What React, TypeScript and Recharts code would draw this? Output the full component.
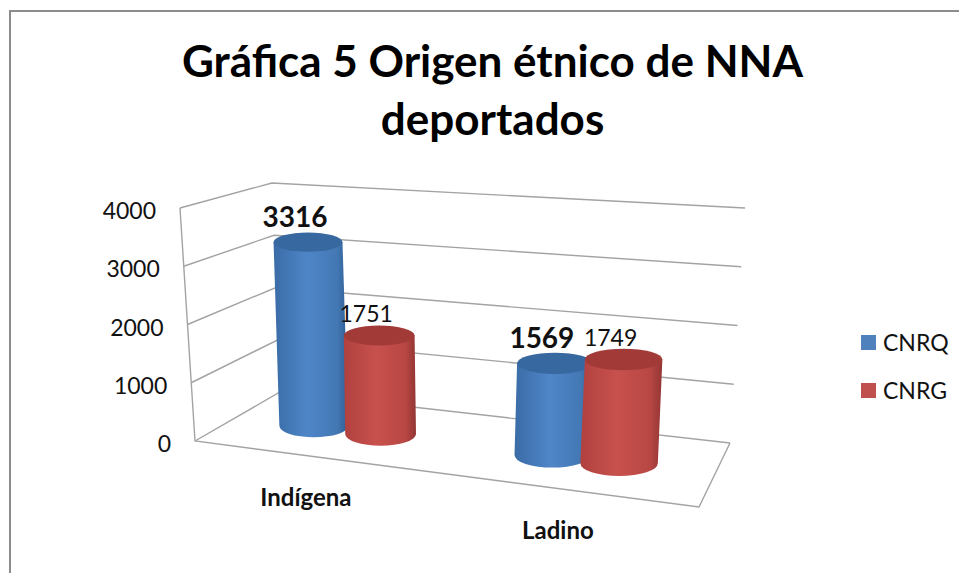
import { BarChart, Bar, XAxis, YAxis, Legend, LabelList, CartesianGrid } from "recharts";

const categories = ["Indígena", "Ladino"];
const cnrq = [3316, 1569];
const cnrg = [1751, 1749];
const yTicks = [0, 1000, 2000, 3000, 4000];
const yMax = 4000;

const data = categories.map((name, i) => ({ name, CNRQ: cnrq[i], CNRG: cnrg[i] }));

const FONT = "Lato, sans-serif";
const LINE = "#a3a3a3";

// plot box in the chart, the 3D box below is mapped from it
const PLOT = { left: 100, top: 100, width: 600, height: 400 };
const LEGEND_W = 90;
const U_SHIFT = -0.02;

// corners of the 3D box on screen: [front/back][bottom/top][left/right]
const BOX = {
  fbl: [195, 441],
  ftl: [180, 208],
  fbr: [699, 507],
  ftr: [716, 250],
  bbl: [280, 392],
  btl: [272, 183],
  bbr: [730, 443],
  btr: [745, 208],
};

const mix = (a: number[], b: number[], t: number) => [a[0] + (b[0] - a[0]) * t, a[1] + (b[1] - a[1]) * t];

function project(u: number, v: number, d: number) {
  const fb = mix(BOX.fbl, BOX.fbr, u);
  const ft = mix(BOX.ftl, BOX.ftr, u);
  const bb = mix(BOX.bbl, BOX.bbr, u);
  const bt = mix(BOX.btl, BOX.btr, u);
  return mix(mix(fb, ft, v), mix(bb, bt, v), d);
}

const toU = (x: number) => (x - PLOT.left) / PLOT.width + U_SHIFT;
const toV = (y: number) => (PLOT.top + PLOT.height - y) / PLOT.height;

// bars stand mid depth, slightly short of the wall scale
function barEnds(x: number, y: number, width: number) {
  const uc = toU(x + width / 2);
  const base = project(uc, 0, 0.5);
  const top = mix(base, project(uc, toV(y), 0.5), 0.985);
  return { uc, base, top };
}

function Cylinder(props: any) {
  const { x, y, width, height, fill } = props;
  if (!height) return null;
  const { uc, base, top } = barEnds(x, y, width);
  const rx = ((width / PLOT.width) * 477 * (1 + 0.2 * uc)) / 2;
  const ryTop = rx * 0.28;
  const ryBottom = rx * 0.33;
  const side = `M${top[0] - rx},${top[1]} L${base[0] - rx},${base[1]} A${rx},${ryBottom} 0 0 0 ${base[0] + rx},${base[1]} L${top[0] + rx},${top[1]} Z`;
  return (
    <g>
      <path d={side} fill={`url(#side-${fill.slice(1)})`} />
      <ellipse cx={top[0]} cy={top[1]} rx={rx} ry={ryTop} fill={fill === "#4f81bd" ? "#37689f" : "#a23a38"} />
    </g>
  );
}

function GridLine(props: any) {
  const v = toV(props.y1);
  const a = project(0, v, 0);
  const b = project(0, v, 1);
  const c = project(1, v, 1);
  return (
    <g>
      <polyline points={`${a} ${b} ${c}`} fill="none" stroke={LINE} strokeWidth={1.4} />
      {Math.abs(v) < 0.001 && (
        <polyline
          points={`${project(0, 1, 0)} ${a} ${project(1, 0, 0)} ${c}`}
          fill="none"
          stroke={LINE}
          strokeWidth={1.4}
        />
      )}
    </g>
  );
}

function YTick(props: any) {
  const a = project(0, props.payload.value / yMax, 0);
  return (
    <text x={a[0] - 24} y={a[1] + 11} textAnchor="end" fontFamily={FONT} fontSize={23} fill="#111">
      {props.payload.value}
    </text>
  );
}

function XTick(props: any) {
  const p = project(toU(props.payload.coordinate), 0, 0);
  return (
    <text x={p[0] - 5} y={p[1] + 50} textAnchor="middle" fontFamily={FONT} fontWeight={700} fontSize={24} fill="#111">
      {props.payload.value}
    </text>
  );
}

function makeValueLabel(bold: boolean) {
  return function ValueLabel(props: any) {
    const box = props.viewBox ?? props;
    const { top } = barEnds(box.x, box.y, box.width);
    return (
      <text
        x={top[0] - 13}
        y={top[1] - (bold ? 15 : 14)}
        textAnchor="middle"
        fontFamily={FONT}
        fontWeight={bold ? 700 : 400}
        fontSize={bold ? 28 : 23}
        fill="#111"
      >
        {props.value}
      </text>
    );
  };
}

function LegendBox(props: any) {
  return (
    <div style={{ width: LEGEND_W }}>
      {props.payload.map((item: any) => (
        <div key={item.value} style={{ display: "flex", alignItems: "center", height: 48, fontFamily: FONT, fontSize: 23, color: "#111" }}>
          <span style={{ width: 15, height: 15, background: item.color, marginRight: 7 }} />
          {item.value}
        </div>
      ))}
    </div>
  );
}

export default function App() {
  return (
    <div style={{ position: "absolute", left: 0, top: 0, width: 959, height: 573, overflow: "hidden", background: "#fff" }}>
      <div style={{ position: "absolute", left: 9, top: 10, width: 960, height: 580, borderTop: "2px solid #8c8c8c", borderLeft: "2px solid #8c8c8c" }} />
      <div
        style={{
          position: "absolute",
          left: 120,
          top: 31,
          width: 745,
          textAlign: "center",
          fontFamily: FONT,
          fontWeight: 700,
          fontSize: 44,
          lineHeight: "58px",
          color: "#000",
        }}
      >
        Gráfica 5 Origen étnico de NNA
        <br />
        deportados
      </div>
      <BarChart
        width={959}
        height={573}
        data={data}
        barCategoryGap="22%"
        barGap={0}
        margin={{ top: PLOT.top, left: PLOT.left - 1, right: 959 - PLOT.left - PLOT.width - LEGEND_W, bottom: 573 - PLOT.top - PLOT.height - 1 }}
        style={{ position: "absolute", left: 0, top: 0 }}
      >
        <defs>
          <linearGradient id="side-4f81bd" x1="0" x2="1" y1="0" y2="0">
            <stop offset="0" stopColor="#3a6ca6" />
            <stop offset="0.45" stopColor="#4f86c8" />
            <stop offset="0.85" stopColor="#4378b4" />
            <stop offset="1" stopColor="#2f5d92" />
          </linearGradient>
          <linearGradient id="side-c0504d" x1="0" x2="1" y1="0" y2="0">
            <stop offset="0" stopColor="#b0413f" />
            <stop offset="0.45" stopColor="#c8514d" />
            <stop offset="0.85" stopColor="#b84744" />
            <stop offset="1" stopColor="#933533" />
          </linearGradient>
        </defs>
        <CartesianGrid vertical={false} horizontal={(p: any) => <GridLine key={p.y1} {...p} />} />
        <XAxis dataKey="name" height={1} axisLine={false} tickLine={false} tick={<XTick />} interval={0} />
        <YAxis width={1} domain={[0, yMax]} ticks={yTicks} interval={0} axisLine={false} tickLine={false} tick={<YTick />} />
        <Legend
          layout="vertical"
          align="right"
          verticalAlign="top"
          width={LEGEND_W}
          itemSorter={null}
          content={<LegendBox />}
          wrapperStyle={{ position: "absolute", left: 861, top: 318, right: "auto", bottom: "auto" }}
        />
        <Bar dataKey="CNRQ" fill="#4f81bd" shape={<Cylinder />} isAnimationActive={false}>
          <LabelList dataKey="CNRQ" content={makeValueLabel(true)} />
        </Bar>
        <Bar dataKey="CNRG" fill="#c0504d" shape={<Cylinder />} isAnimationActive={false}>
          <LabelList dataKey="CNRG" content={makeValueLabel(false)} />
        </Bar>
      </BarChart>
    </div>
  );
}
